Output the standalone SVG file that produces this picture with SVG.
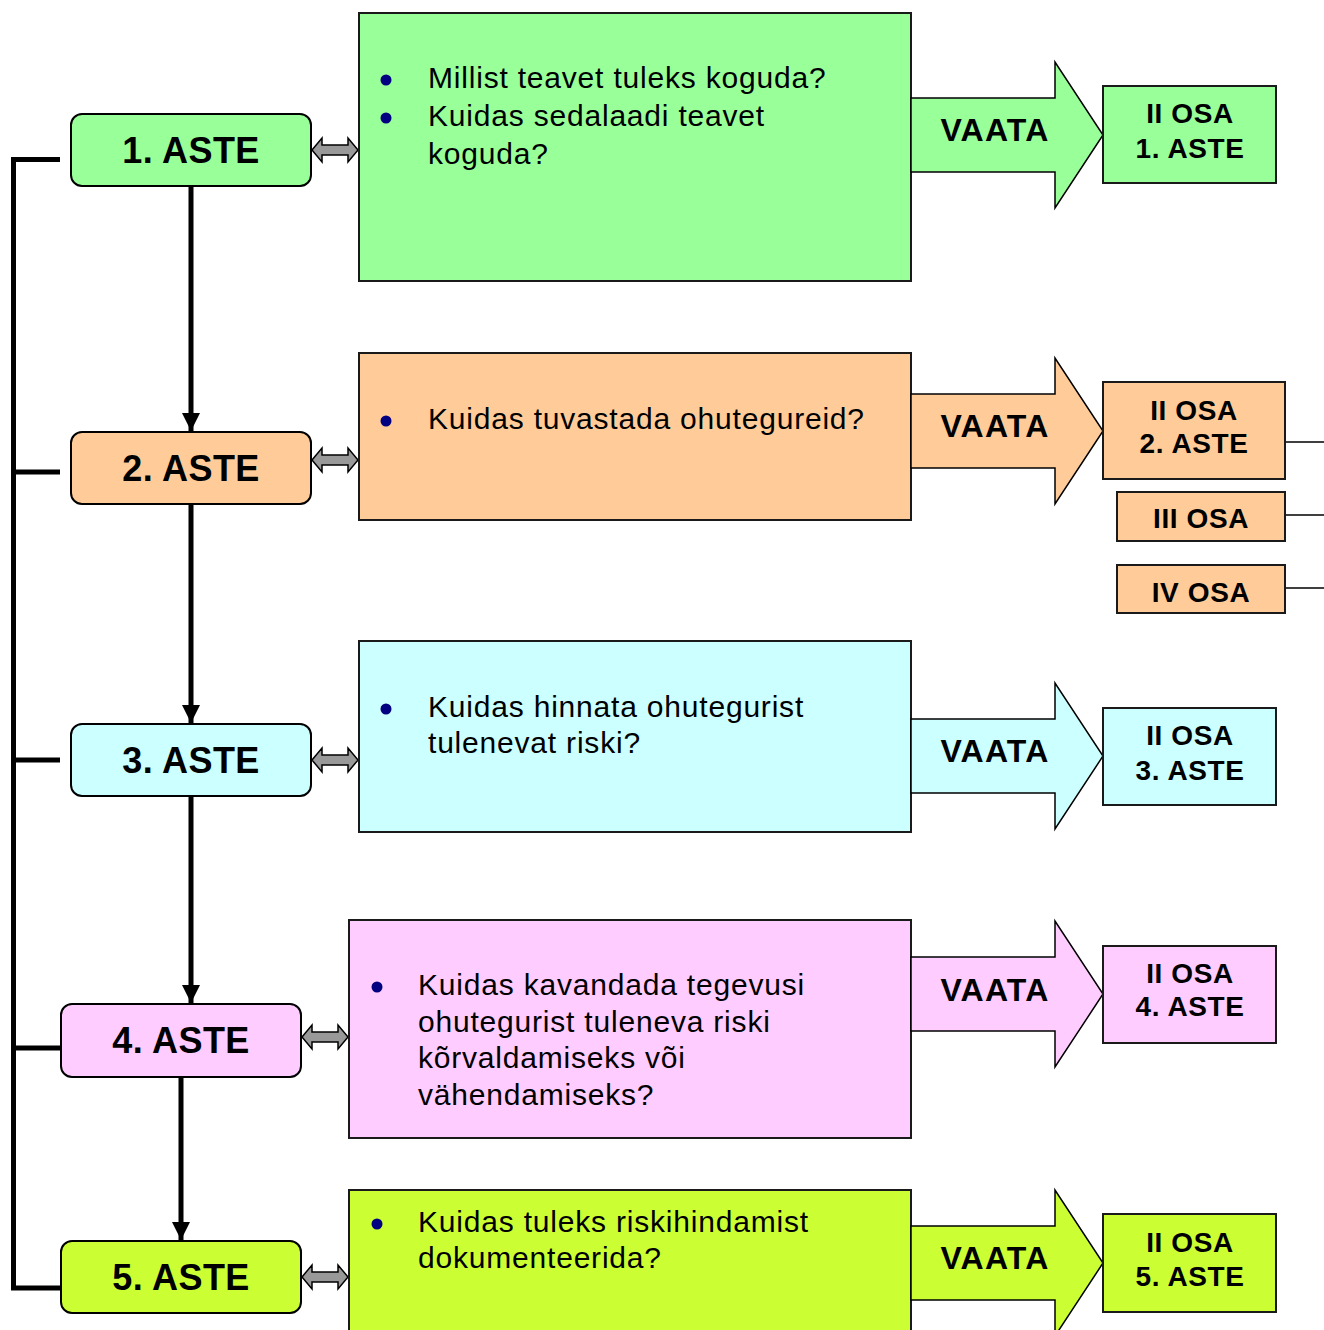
<svg xmlns="http://www.w3.org/2000/svg" width="1324" height="1330" viewBox="0 0 1324 1330">
<style>
.stage{stroke:#000;stroke-width:2}
.qbox{stroke:#1a1a1a;stroke-width:2}
.osa{stroke:#1a1a1a;stroke-width:2}
.vaata{stroke:#000;stroke-width:1.5}
.dbl{fill:#999999;stroke:#000;stroke-width:1.5}
.st{font-family:"Liberation Sans",Arial,sans-serif;font-weight:bold;font-size:36px;letter-spacing:0.4px;text-anchor:middle;fill:#000}
.q{font-family:"Liberation Sans",Arial,sans-serif;font-size:30px;letter-spacing:0.8px;fill:#000}
.va{font-family:"Liberation Sans",Arial,sans-serif;font-weight:bold;font-size:32px;letter-spacing:1.2px;text-anchor:middle;fill:#000}
.ot{font-family:"Liberation Sans",Arial,sans-serif;font-weight:bold;font-size:28px;letter-spacing:0.6px;text-anchor:middle;fill:#000}
.bul{fill:#000080}
.g{fill:#99ff99}.o{fill:#ffcc99}.c{fill:#ccffff}.p{fill:#ffccff}.l{fill:#ccff33}
.ln{stroke:#000;stroke-width:5;fill:none}
.thin{stroke:#000;stroke-width:1.5;fill:none}
</style>
<defs>
<marker id="ah" markerUnits="userSpaceOnUse" markerWidth="20" markerHeight="20" refX="18" refY="9" orient="auto">
<path d="M0,0 L18,9 L0,18 Z" fill="#000"/>
</marker>
</defs>

<g id="connectors">
<path class="ln" d="M13.5,157 V1290 M11,159.5 H60 M11,472 H60 M11,760 H60 M11,1048 H61 M11,1288 H61"/>
<line class="ln" x1="191" y1="186" x2="191" y2="431" marker-end="url(#ah)"/>
<line class="ln" x1="191" y1="504" x2="191" y2="723" marker-end="url(#ah)"/>
<line class="ln" x1="191" y1="796" x2="191" y2="1003" marker-end="url(#ah)"/>
<line class="ln" x1="181" y1="1073" x2="181" y2="1240" marker-end="url(#ah)"/>
<polygon class="dbl" points="312,150 322,138 322,145 348,145 348,138 358,150 348,162 348,155 322,155 322,162"/>
<polygon class="dbl" points="312,460 322,448 322,455 348,455 348,448 358,460 348,472 348,465 322,465 322,472"/>
<polygon class="dbl" points="312,760 322,748 322,755 348,755 348,748 358,760 348,772 348,765 322,765 322,772"/>
<polygon class="dbl" points="302,1037 312,1025 312,1032 338,1032 338,1025 348,1037 338,1049 338,1042 312,1042 312,1049"/>
<polygon class="dbl" points="302,1277 312,1265 312,1272 338,1272 338,1265 348,1277 338,1289 338,1282 312,1282 312,1289"/>
<path class="thin" d="M1285,442 H1324 M1285,515 H1324 M1285,588 H1324"/>
</g>

<g id="stage1">
<rect class="stage g" x="71" y="114" width="240" height="72" rx="11"/>
<text class="st" x="191" y="163">1. ASTE</text>
</g>
<g id="stage2">
<rect class="stage o" x="71" y="432" width="240" height="72" rx="11"/>
<text class="st" x="191" y="481">2. ASTE</text>
</g>
<g id="stage3">
<rect class="stage c" x="71" y="724" width="240" height="72" rx="11"/>
<text class="st" x="191" y="773">3. ASTE</text>
</g>
<g id="stage4">
<rect class="stage p" x="61" y="1004" width="240" height="73" rx="11"/>
<text class="st" x="181" y="1053">4. ASTE</text>
</g>
<g id="stage5">
<rect class="stage l" x="61" y="1241" width="240" height="72" rx="11"/>
<text class="st" x="181" y="1290">5. ASTE</text>
</g>

<g id="question1">
<rect class="qbox g" x="359" y="13" width="552" height="268"/>
<circle class="bul" cx="386" cy="80" r="5.5"/>
<circle class="bul" cx="386" cy="118" r="5.5"/>
<text class="q" x="428" y="88">Millist teavet tuleks koguda?</text>
<text class="q" x="428" y="126">Kuidas sedalaadi teavet</text>
<text class="q" x="428" y="164">koguda?</text>
</g>
<g id="question2">
<rect class="qbox o" x="359" y="353" width="552" height="167"/>
<circle class="bul" cx="386" cy="421" r="5.5"/>
<text class="q" x="428" y="429">Kuidas tuvastada ohutegureid?</text>
</g>
<g id="question3">
<rect class="qbox c" x="359" y="641" width="552" height="191"/>
<circle class="bul" cx="386" cy="709" r="5.5"/>
<text class="q" x="428" y="717">Kuidas hinnata ohutegurist</text>
<text class="q" x="428" y="753">tulenevat riski?</text>
</g>
<g id="question4">
<rect class="qbox p" x="349" y="920" width="562" height="218"/>
<circle class="bul" cx="377" cy="987" r="5.5"/>
<text class="q" x="418" y="995">Kuidas kavandada tegevusi</text>
<text class="q" x="418" y="1032">ohutegurist tuleneva riski</text>
<text class="q" x="418" y="1068">kõrvaldamiseks või</text>
<text class="q" x="418" y="1105">vähendamiseks?</text>
</g>
<g id="question5">
<rect class="qbox l" x="349" y="1190" width="562" height="160"/>
<circle class="bul" cx="377" cy="1224" r="5.5"/>
<text class="q" x="418" y="1232">Kuidas tuleks riskihindamist</text>
<text class="q" x="418" y="1268">dokumenteerida?</text>
</g>

<g id="vaata1">
<polygon class="vaata g" points="911,98 1055,98 1055,62 1103,135 1055,208 1055,172 911,172"/>
<text class="va" x="995" y="141">VAATA</text>
</g>
<g id="vaata2">
<polygon class="vaata o" points="911,394 1055,394 1055,358 1103,431 1055,504 1055,468 911,468"/>
<text class="va" x="995" y="437">VAATA</text>
</g>
<g id="vaata3">
<polygon class="vaata c" points="911,719 1055,719 1055,683 1103,756 1055,829 1055,793 911,793"/>
<text class="va" x="995" y="762">VAATA</text>
</g>
<g id="vaata4">
<polygon class="vaata p" points="911,957 1055,957 1055,921 1103,994 1055,1067 1055,1031 911,1031"/>
<text class="va" x="995" y="1001">VAATA</text>
</g>
<g id="vaata5">
<polygon class="vaata l" points="911,1226 1055,1226 1055,1190 1103,1263 1055,1336 1055,1300 911,1300"/>
<text class="va" x="995" y="1269">VAATA</text>
</g>

<g id="osa1">
<rect class="osa g" x="1103" y="86" width="173" height="97"/>
<text class="ot" x="1190" y="123">II OSA</text>
<text class="ot" x="1190" y="158">1. ASTE</text>
</g>
<g id="osa2">
<rect class="osa o" x="1103" y="382" width="182" height="97"/>
<text class="ot" x="1194" y="420">II OSA</text>
<text class="ot" x="1194" y="453">2. ASTE</text>
</g>
<g id="osa3part">
<rect class="osa o" x="1117" y="492" width="168" height="49"/>
<text class="ot" x="1201" y="528">III OSA</text>
</g>
<g id="osa4part">
<rect class="osa o" x="1117" y="565" width="168" height="48"/>
<text class="ot" x="1201" y="602">IV OSA</text>
</g>
<g id="osa3">
<rect class="osa c" x="1103" y="708" width="173" height="97"/>
<text class="ot" x="1190" y="745">II OSA</text>
<text class="ot" x="1190" y="780">3. ASTE</text>
</g>
<g id="osa4">
<rect class="osa p" x="1103" y="946" width="173" height="97"/>
<text class="ot" x="1190" y="983">II OSA</text>
<text class="ot" x="1190" y="1016">4. ASTE</text>
</g>
<g id="osa5">
<rect class="osa l" x="1103" y="1214" width="173" height="98"/>
<text class="ot" x="1190" y="1252">II OSA</text>
<text class="ot" x="1190" y="1286">5. ASTE</text>
</g>
</svg>
